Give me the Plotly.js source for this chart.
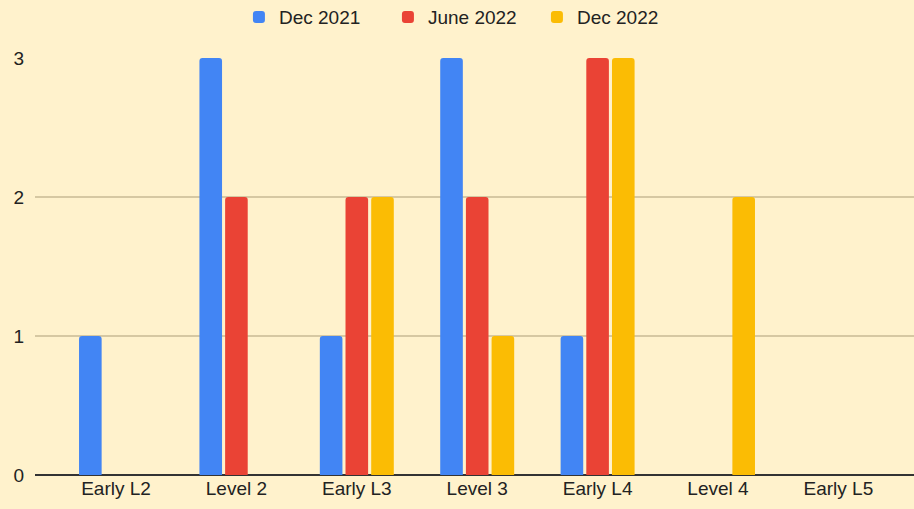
<!DOCTYPE html>
<html>
<head>
<meta charset="utf-8">
<script src="https://cdn.plot.ly/plotly-3.0.1.min.js"></script>
<style>html,body{margin:0;padding:0;background:#fff2cc;}#chart{width:914px;height:509px;}</style>
</head>
<body>
<div id="chart"></div>
<script>
const categories = ["Early L2", "Level 2", "Early L3", "Level 3", "Early L4", "Level 4", "Early L5"];
const dec2021 = [1, 3, 1, 3, 1, 0, 0];
const june2022 = [0, 2, 2, 2, 3, 0, 0];
const dec2022 = [0, 0, 2, 1, 3, 2, 0];
const seriesNames = ["Dec 2021", "June 2022", "Dec 2022"];
const colors = ["#4285f4", "#ea4335", "#fbbc04"];
const yTicks = [0, 1, 2, 3];

const traces = [dec2021, june2022, dec2022].map((vals, i) => ({
  type: 'bar',
  x: categories,
  y: vals,
  name: seriesNames[i],
  marker: {color: colors[i], cornerradius: 3},
  hoverinfo: 'x+y+name'
}));

const layout = {
  width: 914, height: 509,
  paper_bgcolor: '#fff2cc', plot_bgcolor: '#fff2cc',
  margin: {l: 35, r: 0, t: 58, b: 34, pad: 0, autoexpand: false},
  font: {family: 'Liberation Sans, Arial, sans-serif', size: 19, color: '#222222'},
  barmode: 'group', bargap: 0.36, bargroupgap: 0.12,
  showlegend: true,
  legend: {orientation: 'h', x: 0.232, xanchor: 'left', y: 1.098, yanchor: 'middle',
           entrywidth: 104, entrywidthmode: 'pixels',
           font: {size: 19, color: '#222222'}, itemwidth: 30, traceorder: 'normal',
           bgcolor: 'rgba(0,0,0,0)'},
  xaxis: {type: 'category', range: [-0.673, 6.628], showgrid: false, zeroline: false,
          showline: false, ticks: '', tickfont: {size: 19, color: '#222222'}, fixedrange: true},
  yaxis: {range: [0, 3.0], tickvals: yTicks, ticktext: yTicks.map(String), showgrid: true,
          gridcolor: '#d6c8a2', gridwidth: 1.2, zeroline: true, zerolinecolor: '#333333',
          zerolinewidth: 1.5, showline: false, ticks: '', ticklabelstandoff: 10,
          tickfont: {size: 19, color: '#222222'}, fixedrange: true}
};

Plotly.newPlot('chart', traces, layout, {displayModeBar: false, staticPlot: true});
</script>
</body>
</html>
